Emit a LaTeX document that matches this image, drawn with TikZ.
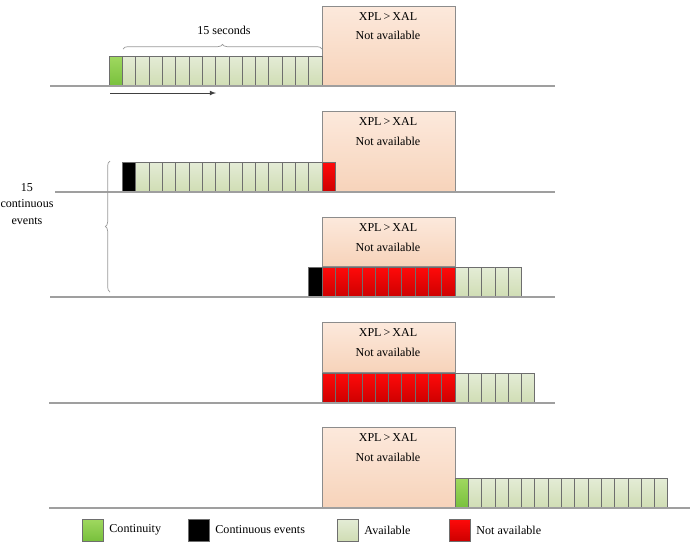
\documentclass[tikz,border=0pt]{standalone}
\usepackage{fontspec}
\setmainfont{Liberation Serif}
\usetikzlibrary{positioning, arrows, decorations.pathreplacing}

\definecolor{boxtop}{RGB}{252,233,220}
\definecolor{boxbot}{RGB}{247,211,186}
\definecolor{boxline}{RGB}{140,140,140}
\definecolor{availtop}{RGB}{228,236,214}
\definecolor{availbot}{RGB}{208,221,180}
\definecolor{greentop}{RGB}{160,216,96}
\definecolor{greenbot}{RGB}{120,192,60}
\definecolor{redtop}{RGB}{255,10,10}
\definecolor{redbot}{RGB}{205,0,0}
\definecolor{cellline}{RGB}{110,110,110}

\tikzset{
  cell/.style={draw=cellline, line width=0.6pt, inner sep=0pt, outer sep=0pt,
    minimum width=0.399cm, minimum height=0.9cm, anchor=south west},
  availcell/.style={cell, top color=availtop, bottom color=availbot},
  greencell/.style={cell, top color=greentop, bottom color=greenbot},
  redcell/.style={cell, top color=redtop, bottom color=redbot},
  blackcell/.style={cell, fill=black},
  nabox/.style={draw=boxline, line width=0.6pt, top color=boxtop, bottom color=boxbot,
    inner sep=0pt, outer sep=0pt, minimum width=3.99cm, minimum height=#1*0.03cm, anchor=south west},
  groundline/.style={draw=gray!75, line width=0.9pt},
  legsq/.style={draw=cellline, line width=0.6pt, minimum width=0.63cm, minimum height=0.66cm, inner sep=0pt},
  legtext/.style={inner sep=0pt, right=5pt of #1},
}

\begin{document}
\begin{tikzpicture}[x=0.03cm, y=-0.03cm, font=\fontsize{10.3}{14}\selectfont]
\useasboundingbox (0,0) rectangle (700,546);

% row 1
\node[nabox=80] (b1) at (322,86) {};
\node (b1a) at (388,17) {XPL\,>\,XAL};
\node (b1b) at (388,35) {Not available};
\node[greencell] (a0) at (109.2,86) {};
\foreach \i in {1,...,15}
  \node[availcell] (a\i) at ({109.2+13.3*\i},86) {};
\coordinate (g1s) at (50,86);
\coordinate (g1e) at (555,86);
\draw[groundline] (g1s) -- (g1e);
\draw[decorate, decoration={brace, amplitude=4pt}, draw=gray!80, line width=0.6pt] (123,49) -- (322,49);
\node (sec) at (224,30) {15 seconds};
\coordinate (arrs) at (110,93);
\coordinate (arre) at (216,93);
\draw[-latex, draw=black!75, line width=0.8pt] (arrs) -- (arre);

% row 2
\node[nabox=81] (b2) at (322,192) {};
\node (b2a) at (388,122) {XPL\,>\,XAL};
\node (b2b) at (388,141) {Not available};
\node[blackcell] (c0) at (122.5,192) {};
\foreach \i in {1,...,14}
  \node[availcell] (c\i) at ({122.5+13.3*\i},192) {};
\node[redcell] (c15) at (322,192) {};
\coordinate (g2s) at (55,192);
\coordinate (g2e) at (555,192);
\draw[groundline] (g2s) -- (g2e);

% row 3
\node[nabox=49] (b3) at (322,266) {};
\node (b3a) at (388,228) {XPL\,>\,XAL};
\node (b3b) at (388,247) {Not available};
\node[blackcell] (d0) at (308.7,297) {};
\foreach \i in {0,...,9}
  \node[redcell] (dr\i) at ({322+13.3*\i},297) {};
\foreach \i in {0,...,4}
  \node[availcell] (da\i) at ({455+13.3*\i},297) {};
\coordinate (g3s) at (50,297);
\coordinate (g3e) at (555,297);
\draw[groundline] (g3s) -- (g3e);

% brace over rows 2 and 3
\draw[decorate, decoration={brace, amplitude=4pt}, draw=gray!80, line width=0.6pt] (110,292) -- (110,161);
\node[align=center, font=\fontsize{10.3}{14}\selectfont] (cont) at (27,204) {15\\continuous\\events};

% row 4
\node[nabox=50] (b4) at (322,372) {};
\node (b4a) at (388,333) {XPL\,>\,XAL};
\node (b4b) at (388,352) {Not available};
\foreach \i in {0,...,9}
  \node[redcell] (er\i) at ({322+13.3*\i},403) {};
\foreach \i in {0,...,5}
  \node[availcell] (ea\i) at ({455+13.3*\i},403) {};
\coordinate (g4s) at (49,403);
\coordinate (g4e) at (555,403);
\draw[groundline] (g4s) -- (g4e);

% row 5
\node[nabox=81] (b5) at (322,508) {};
\node (b5a) at (388,438) {XPL\,>\,XAL};
\node (b5b) at (388,457) {Not available};
\node[greencell] (f0) at (455,508) {};
\foreach \i in {1,...,15}
  \node[availcell] (f\i) at ({455+13.3*\i},508) {};
\coordinate (g5s) at (49,508);
\coordinate (g5e) at (690,508);
\draw[groundline] (g5s) -- (g5e);

% legend
\node[legsq, top color=greentop, bottom color=greenbot] (lg1) at (92.5,530) {};
\node[legtext=lg1] (lt1) {Continuity};
\node[legsq, fill=black] (lg2) at (198.5,530) {};
\node[legtext=lg2] (lt2) {Continuous events};
\node[legsq, top color=availtop, bottom color=availbot] (lg3) at (347.5,530) {};
\node[legtext=lg3] (lt3) {Available};
\node[legsq, top color=redtop, bottom color=redbot] (lg4) at (459.5,530) {};
\node[legtext=lg4] (lt4) {Not available};
\end{tikzpicture}
\end{document}
